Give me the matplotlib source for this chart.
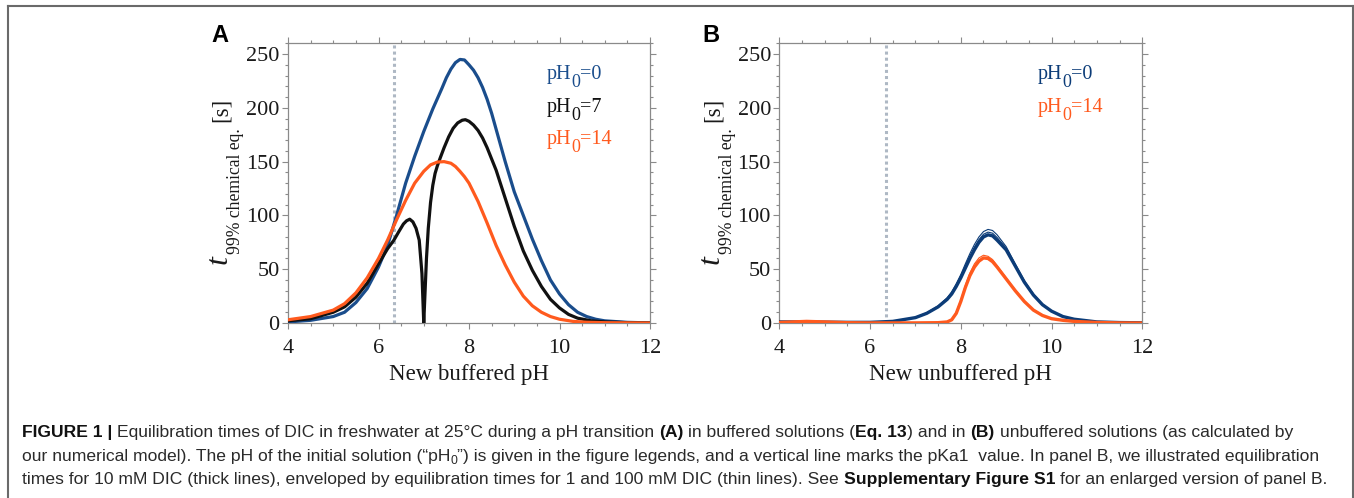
import matplotlib
matplotlib.use("Agg")
import matplotlib.pyplot as plt
from matplotlib.lines import Line2D
from matplotlib.ticker import MultipleLocator
from matplotlib import font_manager as fm

plt.rcParams['font.family'] = ['Liberation Serif', 'DejaVu Serif']
plt.rcParams['mathtext.fontset'] = 'stix'

# ------------------ data ------------------ #
# panel A: buffered
a_ph_blue = [4.0, 4.5, 5.0, 5.25, 5.5, 5.75, 6.0, 6.2, 6.4, 6.6, 6.8, 7.0, 7.2, 7.4, 7.5, 7.6,
             7.7, 7.8, 7.9, 8.0, 8.1, 8.2, 8.3, 8.4, 8.5, 8.6, 8.8, 9.0, 9.2, 9.4, 9.6, 9.8,
             10.0, 10.2, 10.4, 10.6, 10.8, 11.0, 11.5, 12.0]
a_t_blue = [1, 2.5, 6, 10, 19, 32, 52, 72, 100, 130, 155, 178, 199, 218, 228, 236,
            242, 245, 244.5, 240, 235, 228, 219, 208, 195, 180, 150, 122, 100, 78, 58, 40,
            27, 17, 10, 6, 3.5, 2, 0.6, 0.1]

a_ph_black = [4.0, 4.5, 5.0, 5.25, 5.5, 5.75, 6.0, 6.2, 6.34, 6.45, 6.55, 6.62, 6.69, 6.76,
              6.83, 6.9, 6.96, 7.0, 7.03, 7.06, 7.1, 7.15, 7.2, 7.25, 7.3, 7.36, 7.45, 7.55,
              7.65, 7.75, 7.85, 7.92, 8.0, 8.1, 8.2, 8.3, 8.4, 8.6, 8.8, 9.0, 9.2, 9.4, 9.6,
              9.8, 10.0, 10.2, 10.4, 10.7, 11.0, 11.5, 12.0]
a_t_black = [2, 4, 10, 15, 24, 37, 55, 69, 77, 85, 92, 95, 96.5, 94,
             88, 77, 46, 0, 30, 60, 88, 112, 128, 139, 146, 153, 163, 173,
             181, 186, 188.5, 189, 187.5, 184, 179, 172, 163, 142, 116, 90, 67, 49, 34,
             22, 14, 8, 4.5, 2, 1, 0.3, 0]

a_ph_orange = [4.0, 4.5, 5.0, 5.25, 5.5, 5.75, 6.0, 6.2, 6.4, 6.6, 6.8, 7.0, 7.15, 7.3, 7.45,
               7.6, 7.7, 7.8, 7.9, 8.0, 8.2, 8.4, 8.6, 8.8, 9.0, 9.2, 9.4, 9.6, 9.8, 10.0,
               10.3, 10.6, 11.0, 12.0]
a_t_orange = [3, 6, 12, 18, 28, 42, 60, 77, 96, 114, 130, 141, 147, 149.6, 150,
              148.5, 145.5, 141, 136, 130, 113, 93, 72, 54, 38, 25, 16, 10, 6, 3.5,
              1.5, 0.7, 0.3, 0]

# panel B: unbuffered (thick = 10 mM, thin = 1 and 100 mM)
b_ph = [4.0, 4.3, 4.6, 5.0, 5.5, 6.0, 6.5, 7.0, 7.25, 7.5, 7.7, 7.8, 7.9, 8.0, 8.1, 8.2, 8.3,
        8.4, 8.5, 8.6, 8.7, 8.8, 9.0, 9.2, 9.4, 9.6, 9.8, 10.0, 10.25, 10.5, 11.0, 11.5, 12.0]
b_blue = [1, 1, 0.9, 0.8, 0.6, 0.6, 1.5, 5, 9, 15, 22, 27, 34, 42, 51, 60, 68,
          75, 80, 82, 81, 77, 68, 53, 38, 26, 17, 11, 6, 3.5, 1, 0.4, 0.2]
b_blue_thin1 = [1, 1, 0.9, 0.8, 0.6, 0.6, 1.6, 5.3, 9.6, 16, 23.5, 29, 36.5, 45, 55, 64.5, 73,
                80, 85, 87, 86, 82, 71, 55, 39.5, 27, 17.5, 11.3, 6.2, 3.6, 1, 0.4, 0.2]
b_blue_thin2 = [1, 1, 0.9, 0.8, 0.6, 0.6, 1.5, 5.1, 9.2, 15.4, 22.6, 28, 35, 43.5, 53, 62, 70.5,
                77.5, 82.5, 84.5, 83.5, 79.5, 69.5, 54, 38.5, 26.5, 17.2, 11.1, 6.1, 3.5, 1, 0.4, 0.2]
b_orange = [0.5, 1, 1.5, 1, 0.3, 0.1, 0.1, 0.1, 0.2, 0.3, 1, 3, 9, 20, 33, 44, 52,
            57.5, 60.5, 60, 57, 52, 41, 30, 20, 12, 7, 4, 2.5, 1.5, 0.5, 0.1, 0]
b_orange_thin = [0.5, 1, 1.5, 1, 0.3, 0.1, 0.1, 0.1, 0.2, 0.3, 1, 3.3, 10, 21.5, 35, 46.5, 55,
                 60.5, 63, 62, 59, 53.5, 42, 30.8, 20.5, 12.3, 7.2, 4.1, 2.5, 1.5, 0.5, 0.1, 0]

pKa1 = 6.35

BLUE_A = '#1a4d8c'
BLUE_B = '#0c3c78'
ORANGE = '#ff5a1e'
BLACK = '#111111'
GREY = '#8a8a8a'
TXT = '#1a1a1a'

fig = plt.figure(figsize=(13.54, 4.98), dpi=100)
W, H = 1354.0, 498.0
renderer = fig.canvas.get_renderer()


def text_w(s, prop):
    # advance width of s in pixels (bars keep leading/trailing spaces counted)
    w1 = renderer.get_text_width_height_descent('|' + s + '|', prop, ismath=False)[0]
    w0 = renderer.get_text_width_height_descent('||', prop, ismath=False)[0]
    return w1 - w0


def setup_axes(ax, xlabel):
    ax.set_xlim(4, 12)
    ax.set_ylim(0, 260)
    ax.set_xticks([4, 6, 8, 10, 12])
    ax.set_yticks([0, 50, 100, 150, 200, 250])
    ax.xaxis.set_minor_locator(MultipleLocator(0.5))
    ax.yaxis.set_minor_locator(MultipleLocator(10))
    ax.tick_params(which='both', direction='out', top=True, right=True,
                   color=GREY, width=0.8, labelsize=16, labelcolor=TXT)
    ax.tick_params(axis='x', pad=7.5)
    ax.tick_params(axis='y', pad=2)
    ax.tick_params(which='major', length=4)
    ax.tick_params(which='minor', length=2)
    for s in ax.spines.values():
        s.set_color(GREY)
        s.set_linewidth(0.9)
    ax.set_xlabel(xlabel, fontsize=16.5, color=TXT, labelpad=4)
    ax.axvline(pKa1, color='#aeb8c4', lw=2.2, ls=(0, (1, 1)), zorder=1)


def y_label(x_base):
    # rotated label built from pieces: big italic t, subscript, then [s]
    p_t = fm.FontProperties(family='Liberation Serif', style='italic', size=23)
    p_sub = fm.FontProperties(family='Liberation Serif', size=10)
    sub = '99% chemical eq.'
    p_sub.set_size(10 * 126 / text_w(sub, p_sub))
    p_s = fm.FontProperties(family='Liberation Serif', size=16.5)
    fig.text(x_base / W, 1 - 264 / H, 't', fontproperties=p_t, color=TXT,
             rotation=90, rotation_mode='anchor', ha='left', va='baseline')
    fig.text((x_base + 13) / W, 1 - 254 / H, sub, fontproperties=p_sub, color=TXT,
             rotation=90, rotation_mode='anchor', ha='left', va='baseline')
    fig.text(x_base / W, 1 - 122 / H, '[s]', fontproperties=p_s, color=TXT,
             rotation=90, rotation_mode='anchor', ha='left', va='baseline')


def legend_entry(x, y, value, color):
    # pH with a big lowered subscript 0, as in the reference
    big = fm.FontProperties(family='Liberation Serif', size=14.5)
    sub = fm.FontProperties(family='Liberation Serif', size=13)
    for s, prop, dy in [('pH', big, 0), ('0', sub, 8), ('=' + value, big, 0)]:
        fig.text(x / W, 1 - (y + dy) / H, s, fontproperties=prop, color=color,
                 ha='left', va='baseline')
        x += text_w(s, prop)


# ------------------------- panel A ------------------------- #
axA = fig.add_axes([288 / W, 1 - 323 / H, 362 / W, 279.7 / H])
setup_axes(axA, 'New buffered pH')
axA.plot(a_ph_blue, a_t_blue, color=BLUE_A, lw=2.3, zorder=3)
axA.plot(a_ph_black, a_t_black, color=BLACK, lw=2.3, zorder=4)
axA.plot(a_ph_orange, a_t_orange, color=ORANGE, lw=2.3, zorder=5)
y_label(227)
legend_entry(547, 79, '0', BLUE_A)
legend_entry(547, 112, '7', BLACK)
legend_entry(547, 144, '14', ORANGE)
fig.text(211 / W, 1 - 42 / H, 'A', fontsize=17, fontweight='bold',
         family=['Liberation Sans', 'DejaVu Sans'], va='baseline')

# ------------------------- panel B ------------------------- #
axB = fig.add_axes([779.3 / W, 1 - 323 / H, 363 / W, 279.7 / H])
setup_axes(axB, 'New unbuffered pH')
axB.plot(b_ph, b_blue_thin1, color=BLUE_B, lw=0.8, zorder=3)
axB.plot(b_ph, b_blue_thin2, color=BLUE_B, lw=0.8, zorder=3)
axB.plot(b_ph, b_blue, color=BLUE_B, lw=2.4, zorder=4)
axB.plot(b_ph, b_orange_thin, color=ORANGE, lw=0.8, zorder=5)
axB.plot(b_ph, b_orange, color=ORANGE, lw=2.4, zorder=6)
y_label(718.5)
legend_entry(1038, 79, '0', BLUE_B)
legend_entry(1038, 112, '14', ORANGE)
fig.text(702 / W, 1 - 42 / H, 'B', fontsize=17, fontweight='bold',
         family=['Liberation Sans', 'DejaVu Sans'], va='baseline')

# ------------------------- border ------------------------- #
bc = '#6a6a6a'
fig.add_artist(Line2D([8 / W, 8 / W], [0, 1 - 6.5 / H], color=bc, lw=1.5, transform=fig.transFigure))
fig.add_artist(Line2D([8 / W, 1352.5 / W], [1 - 6.5 / H, 1 - 6.5 / H], color=bc, lw=1.5, transform=fig.transFigure))
fig.add_artist(Line2D([1352.5 / W, 1352.5 / W], [0, 1 - 6.5 / H], color=bc, lw=1.5, transform=fig.transFigure))

# ------------------------- caption ------------------------- #
names = {f.name for f in fm.fontManager.ttflist}
cap_family = 'Liberation Sans Narrow' if 'Liberation Sans Narrow' in names else 'Liberation Sans'

caption = [
    (437, [('FIGURE 1 | ', 'bold'),
           ('Equilibration times of DIC in freshwater at 25°C during a pH transition ', 'normal'),
           ('(A)', 'bold'), (' in buffered solutions (', 'normal'), ('Eq. 13', 'bold'),
           (') and in ', 'normal'), ('(B)', 'bold'),
           (' unbuffered solutions (as calculated by', 'normal')]),
    (460.5, [('our numerical model). The pH of the initial solution (“pH', 'normal'),
             ('0', 'sub'),
             ('”) is given in the figure legends, and a vertical line marks the pKa1  value. '
              'In panel B, we illustrated equilibration', 'normal')]),
    (484, [('times for 10 mM DIC (thick lines), enveloped by equilibration times for 1 and 100 mM DIC '
            '(thin lines). See ', 'normal'), ('Supplementary Figure S1', 'bold'),
           (' for an enlarged version of panel B.', 'normal')]),
]


def piece_prop(kind, size):
    return fm.FontProperties(family=cap_family, size=size * 0.7 if kind == 'sub' else size,
                             weight='bold' if kind == 'bold' else 'normal')


# fit the font size so the second line spans the same width as in the reference
w10 = sum(text_w(s, piece_prop(k, 10)) for s, k in caption[1][1])
cap_size = 10 * (1322 - 22) / w10

for y_base, pieces in caption:
    x = 22.0
    for s, kind in pieces:
        prop = piece_prop(kind, cap_size)
        lead = len(s) - len(s.lstrip(' '))
        sp = text_w(' ', prop)
        dy = 3 if kind == 'sub' else 0
        fig.text((x + lead * sp) / W, 1 - (y_base + dy) / H, s.strip(' '),
                 fontproperties=prop, color='#2a2a2a' if kind != 'bold' else '#111111',
                 ha='left', va='baseline')
        x += text_w(s, prop)

fig.savefig('out.png', dpi=100)
